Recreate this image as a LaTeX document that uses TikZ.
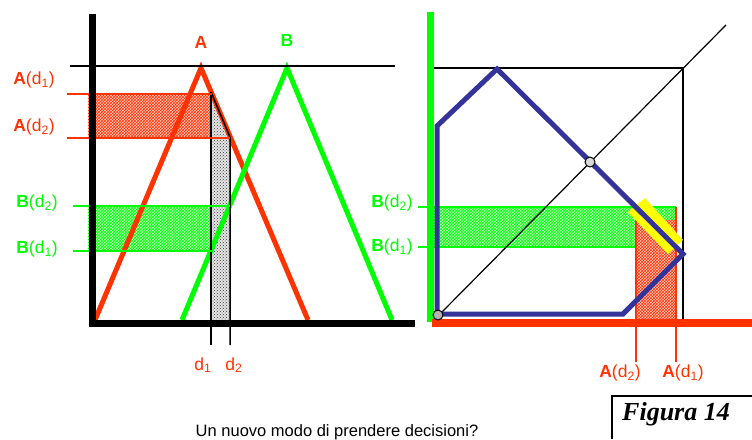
\documentclass[tikz,border=0pt]{standalone}
\usepackage{fontspec}
\setmainfont{Liberation Sans}
\newfontfamily\timesf{Liberation Serif}
\usetikzlibrary{patterns}
\definecolor{fred}{RGB}{255,51,0}
\definecolor{fgreen}{RGB}{0,255,0}
\definecolor{fblue}{RGB}{51,51,153}
\definecolor{fyellow}{RGB}{255,255,0}
\newcommand\mylab[2]{\textbf{#1}(d\textsubscript{#2})}
\tikzset{
  lbl/.style={font=\fontsize{17.5}{20}\selectfont, inner sep=0pt},
  redlbl/.style={lbl, text=fred},
  greenlbl/.style={lbl, text=fgreen},
  thin line/.style={line width=1.2pt, black},
  redthin/.style={line width=1.8pt, fred},
  greenthin/.style={line width=1.8pt, fgreen},
  tri/.style={line width=5pt, line join=miter},
  redhatch/.style={pattern=crosshatch, pattern color=fred},
  greenhatch/.style={pattern=crosshatch, pattern color=fgreen},
}
\begin{document}
\begin{tikzpicture}[x=1pt,y=-1pt]
\useasboundingbox (0,0) rectangle (752,439);
% ---------------- left panel ----------------
\coordinate (raL) at (95,320); \coordinate (raT) at (201,68); \coordinate (raR) at (308,320);
\coordinate (gbL) at (182,320); \coordinate (gbT) at (287,68); \coordinate (gbR) at (392,320);
% red band
\fill[fred!25] (88,94) rectangle (212,138);
\fill[redhatch] (88,94) rectangle (212,138);
% green band
\fill[fgreen!25] (88,206) rectangle (211,251);
\fill[greenhatch] (88,206) rectangle (211,251);
% gray strip
\coordinate (s1) at (211,92); \coordinate (s2) at (230,137);
\coordinate (s3) at (230,345); \coordinate (s4) at (211,345);
\fill[black!10] (s1) -- (s2) -- (230,320) -- (211,320) -- cycle;
\fill[pattern=crosshatch dots, pattern color=black!80] (s1) -- (s2) -- (230,320) -- (211,320) -- cycle;
% triangles
\draw[tri, fred] (raL) -- (raT) -- (raR);
\draw[tri, fgreen] (gbL) -- (gbT) -- (gbR);
\draw[line width=1.5pt] (s1) -- (s4);
\draw[line width=1.5pt] (s1) -- (s2) -- (s3);
% level lines
\coordinate (ad1a) at (67,94);  \coordinate (ad1b) at (212,94);
\coordinate (ad2a) at (67,138); \coordinate (ad2b) at (230,138);
\coordinate (bd2a) at (73,206); \coordinate (bd2b) at (230,206);
\coordinate (bd1a) at (73,251); \coordinate (bd1b) at (213,251);
\draw[redthin] (ad1a) -- (ad1b);
\draw[redthin] (ad2a) -- (ad2b);
\draw[greenthin] (bd2a) -- (bd2b);
\draw[greenthin] (bd1a) -- (bd1b);
% axes
\coordinate (lax0) at (92,14); \coordinate (lax1) at (92,323); \coordinate (lax2) at (415,323);
\draw[line width=7pt, line join=miter] (lax0) -- (lax1) -- (lax2);
\coordinate (top0) at (70,66); \coordinate (top1) at (395,66);
\draw[thin line] (top0) -- (top1);
% labels
\node[redlbl, font=\fontsize{17.5}{20}\selectfont\bfseries] (lA) at (201,42) {A};
\node[greenlbl, font=\fontsize{17.5}{20}\selectfont\bfseries] (lB) at (287,40) {B};
\node[redlbl] (lad1) at (34,80) {\mylab{A}{1}};
\node[redlbl] (lad2) at (34,127) {\mylab{A}{2}};
\node[greenlbl] (lbd2) at (37,203) {\mylab{B}{2}};
\node[greenlbl] (lbd1) at (37,249) {\mylab{B}{1}};
\node[redlbl] (ld1) at (203,365) {d\textsubscript{1}};
\node[redlbl] (ld2) at (234,365) {d\textsubscript{2}};
% ---------------- right panel ----------------
% green band
\fill[fgreen!25] (433,207) rectangle (676,247);
\fill[greenhatch] (433,207) rectangle (676,247);
% red band
\fill[fred!25] (636,220) rectangle (676,322);
\fill[redhatch] (636,220) rectangle (676,322);
\coordinate (rbd2a) at (418,207); \coordinate (rbd2b) at (676,207);
\coordinate (rbd1a) at (418,247); \coordinate (rbd1b) at (636,247);
\draw[greenthin] (rbd2a) -- (rbd2b);
\draw[greenthin] (rbd1a) -- (rbd1b);
\coordinate (rad2a) at (636,220); \coordinate (rad2b) at (636,362);
\coordinate (rad1a) at (676,207); \coordinate (rad1b) at (676,362);
\draw[redthin] (rad2a) -- (rad2b);
\draw[redthin] (rad1a) -- (rad1b);
% square and diagonal
\coordinate (sq0) at (433,68); \coordinate (sq1) at (683,68); \coordinate (sq2) at (683,322);
\draw[thin line] (sq0) -- (sq1) -- (sq2);
\coordinate (dg0) at (438,316); \coordinate (dg1) at (726,25);
\draw[thin line] (dg0) -- (dg1);
% yellow bar
\fill[fyellow] (645,198) -- (683,240) -- (668,254) -- (628,212) -- cycle;
% blue polygon
\draw[line width=5pt, fblue, line join=miter]
  (437,314) -- (437,126) -- (497,69) -- (683,254) -- (623,314) -- cycle;
% axes
\coordinate (gax0) at (430,12); \coordinate (gax1) at (430,322);
\draw[line width=7pt, fgreen] (gax0) -- (gax1);
\coordinate (rax0) at (432,323); \coordinate (rax1) at (752,323);
\draw[line width=8pt, fred] (rax0) -- (rax1);
% circles
\node[circle, draw=black, fill=black!15, line width=1pt, minimum size=10pt, inner sep=0pt] (c1) at (590,162) {};
\node[circle, draw=black, fill=black!30, line width=1pt, minimum size=10pt, inner sep=0pt] (c0) at (438,315) {};
% labels
\node[greenlbl] (rbd2) at (392,203) {\mylab{B}{2}};
\node[greenlbl] (rbd1) at (392,247) {\mylab{B}{1}};
\node[redlbl] (rad2) at (620,373) {\mylab{A}{2}};
\node[redlbl] (rad1) at (683,373) {\mylab{A}{1}};
% caption
\node[font=\fontsize{16.5}{18}\selectfont, inner sep=0pt] (cap) at (337,432) {Un nuovo modo di prendere decisioni?};
\coordinate (fb0) at (612,439); \coordinate (fb1) at (612,396); \coordinate (fb2) at (752,396);
\draw[line width=1.5pt] (fb0) -- (fb1) -- (fb2);
\node[font=\timesf\fontsize{26}{28}\selectfont\bfseries\itshape, inner sep=0pt] (fig) at (676,414) {Figura 14};
\end{tikzpicture}
\end{document}
